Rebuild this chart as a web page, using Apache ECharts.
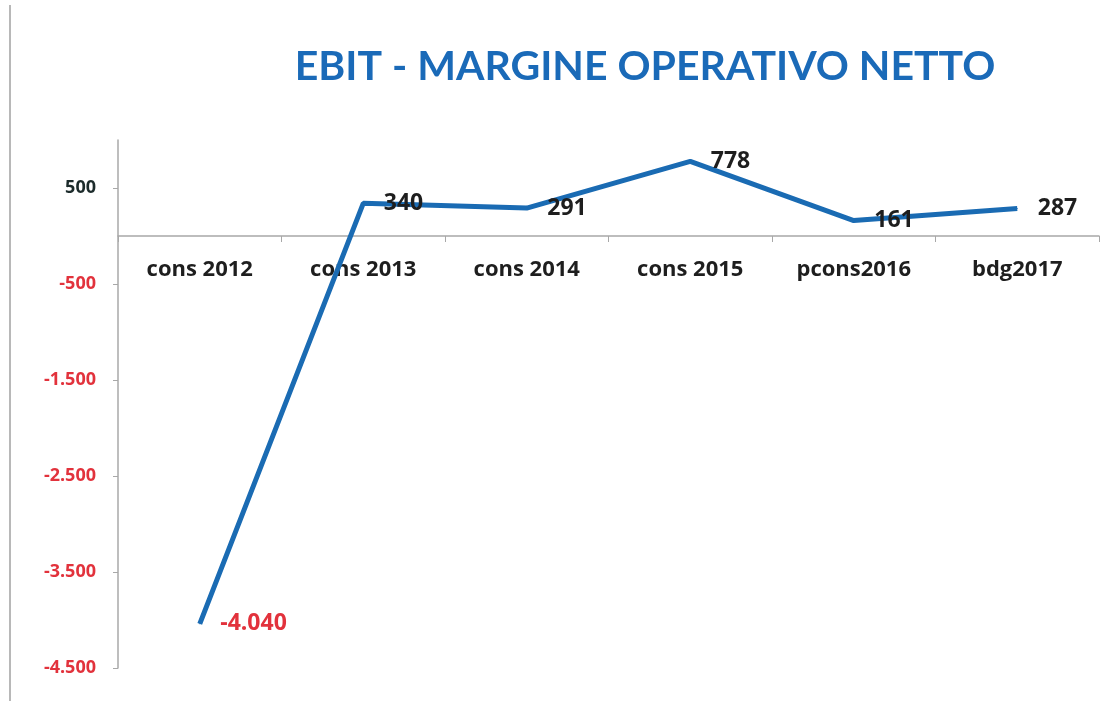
<!DOCTYPE html>
<html>
<head>
<meta charset="utf-8">
<script src="https://cdn.jsdelivr.net/npm/echarts@6/dist/echarts.min.js"></script>
<style>
html,body{margin:0;padding:0;background:#fff;}
#ebit{width:1106px;height:701px;}
</style>
</head>
<body>
<div id="ebit"></div>
<script>
var categorie = ['cons 2012', 'cons 2013', 'cons 2014', 'cons 2015', 'pcons2016', 'bdg2017'];
var ebit = [-4040, 340, 291, 778, 161, 287];
var tickY = [-4500, -3500, -2500, -1500, -500, 500];

// formato italiano: 4.040
function fmt(v) {
	var s = Math.abs(v).toString().replace(/\B(?=(\d{3})+(?!\d))/g, '.');
	return (v < 0 ? '-' : '') + s;
}

var labelX = { fontFamily: 'Open Sans', fontWeight: 'bold', fontSize: 22, color: '#1e1e1e' };

var myChart = echarts.init(document.getElementById('ebit'));
myChart.setOption({
	backgroundColor: '#fff',
	animation: false,
	title: {
		text: 'EBIT - MARGINE OPERATIVO NETTO',
		left: 640,
		textAlign: 'center',
		top: 41,
		textStyle: { fontFamily: 'Lato', fontWeight: 'bold', fontSize: 41, color: '#1a6ab8' }
	},
	grid: { left: 118, right: 7, top: 140, bottom: 33, containLabel: false, outerBoundsMode: 'none' },
	xAxis: [{
		type: 'category',
		data: categorie,
		boundaryGap: true,
		axisLine: { onZero: true, lineStyle: { color: '#a8a8a8', width: 1.5 } },
		axisTick: { show: true, length: 6, lineStyle: { color: '#a8a8a8' } },
		axisLabel: { show: false }
	}, {
		// solo etichette, spostate sulla linea dello zero
		type: 'category',
		data: categorie,
		position: 'bottom',
		offset: -433,
		boundaryGap: true,
		axisLine: { show: false, onZero: false },
		axisTick: { show: false },
		axisLabel: { margin: 24, fontFamily: labelX.fontFamily, fontWeight: labelX.fontWeight, fontSize: labelX.fontSize, color: labelX.color }
	}],
	yAxis: {
		type: 'value',
		min: -4500,
		max: 1000,
		splitLine: { show: false },
		axisLine: { show: true, lineStyle: { color: '#a8a8a8', width: 1.5 } },
		axisTick: { show: true, length: 5, customValues: tickY, lineStyle: { color: '#a8a8a8' } },
		axisLabel: {
			customValues: tickY,
			margin: 22,
			fontFamily: 'Open Sans',
			fontWeight: 'bold',
			fontSize: 18,
			formatter: function (v) { return v < 0 ? '{neg|' + fmt(v) + '}' : '{pos|' + fmt(v) + '}'; },
			rich: {
				neg: { color: '#e2323c', fontFamily: 'Open Sans', fontWeight: 'bold', fontSize: 18 },
				pos: { color: '#1c2b2b', fontFamily: 'Open Sans', fontWeight: 'bold', fontSize: 18 }
			}
		}
	},
	graphic: [{
		type: 'line',
		shape: { x1: 10, y1: 5, x2: 10, y2: 701 },
		style: { stroke: '#b8b8b8', lineWidth: 2 }
	}],
	series: [{
		type: 'line',
		xAxisIndex: 0,
		data: ebit,
		symbol: 'circle',
		showSymbol: true,
		symbolSize: 1,
		itemStyle: { color: '#1a6bb3' },
		lineStyle: { color: '#1a6bb3', width: 5 },
		label: {
			show: true,
			position: 'right',
			distance: 20,
			fontFamily: 'Open Sans',
			fontWeight: 'bold',
			fontSize: 23,
			formatter: function (p) { return p.value < 0 ? '{neg|' + fmt(p.value) + '}' : '{pos|' + fmt(p.value) + '}'; },
			rich: {
				neg: { color: '#e2323c', fontFamily: 'Open Sans', fontWeight: 'bold', fontSize: 23 },
				pos: { color: '#1e1e1e', fontFamily: 'Open Sans', fontWeight: 'bold', fontSize: 23 }
			}
		}
	}]
});
</script>
</body>
</html>
